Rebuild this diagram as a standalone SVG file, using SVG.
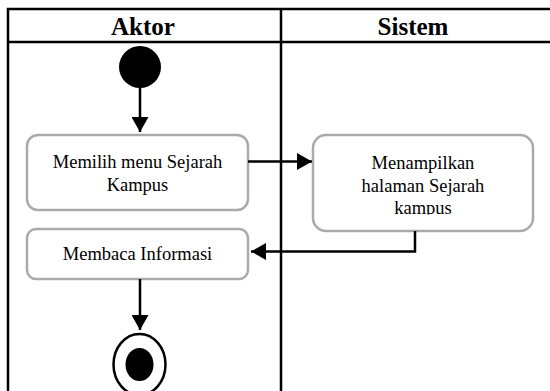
<svg xmlns="http://www.w3.org/2000/svg" width="550" height="391" viewBox="0 0 550 391">
<style>
.lane{fill:none;stroke:#000;stroke-width:2.5}
.hdr{font-family:"Liberation Serif",serif;font-weight:bold;font-size:25px;text-anchor:middle;fill:#000}
.box{fill:#fff;stroke:#aaa;stroke-width:2.5}
.lbl{font-family:"Liberation Serif",serif;font-size:18.5px;text-anchor:middle;fill:#000}
.edge{fill:none;stroke:#000;stroke-width:2.5}
</style>
<defs>
<marker id="ah" markerWidth="16" markerHeight="17" refX="15" refY="8.5" orient="auto" markerUnits="userSpaceOnUse">
<path d="M0,0 L15,8.5 L0,17 Z" fill="#000"/>
</marker>
<clipPath id="c2"><rect x="313" y="135" width="220" height="79.5"/></clipPath>
</defs>
<rect width="550" height="391" fill="#fff"/>
<g id="lanes">
<rect class="lane" x="8" y="9" width="560" height="400"/>
<line class="lane" x1="8" y1="42" x2="552" y2="42"/>
<line class="lane" x1="281" y1="9" x2="281" y2="395"/>
<text class="hdr" x="143" y="34.5">Aktor</text>
<text class="hdr" x="413" y="34.5">Sistem</text>
</g>
<g id="start"><circle cx="140" cy="67" r="21" fill="#000"/></g>
<g id="n1">
<rect class="box" x="27" y="135" width="221" height="75" rx="11"/>
<text class="lbl" x="137.5" y="168">Memilih menu Sejarah</text>
<text class="lbl" x="137.5" y="191">Kampus</text>
</g>
<g id="n2">
<rect class="box" x="313" y="135" width="220" height="96" rx="13"/>
<g clip-path="url(#c2)">
<text class="lbl" x="423" y="169">Menampilkan</text>
<text class="lbl" x="423" y="191.5">halaman Sejarah</text>
<text class="lbl" x="423" y="214">kampus</text>
</g>
</g>
<g id="n3">
<rect class="box" x="27" y="229" width="221" height="50" rx="9"/>
<text class="lbl" x="137.5" y="260">Membaca Informasi</text>
</g>
<g id="end">
<ellipse cx="139.5" cy="364.5" rx="26" ry="30.5" fill="#fff" stroke="#000" stroke-width="2.5"/>
<ellipse cx="139.5" cy="364.5" rx="14" ry="16.5" fill="#000"/>
</g>
<g id="connectors">
<line class="edge" x1="140" y1="88" x2="140" y2="132" marker-end="url(#ah)"/>
<line class="edge" x1="248" y1="161.5" x2="312" y2="161.5" marker-end="url(#ah)"/>
<polyline class="edge" points="415,231 415,251.5 251,251.5" marker-end="url(#ah)"/>
<line class="edge" x1="140" y1="279" x2="140" y2="330" marker-end="url(#ah)"/>
</g>
</svg>
